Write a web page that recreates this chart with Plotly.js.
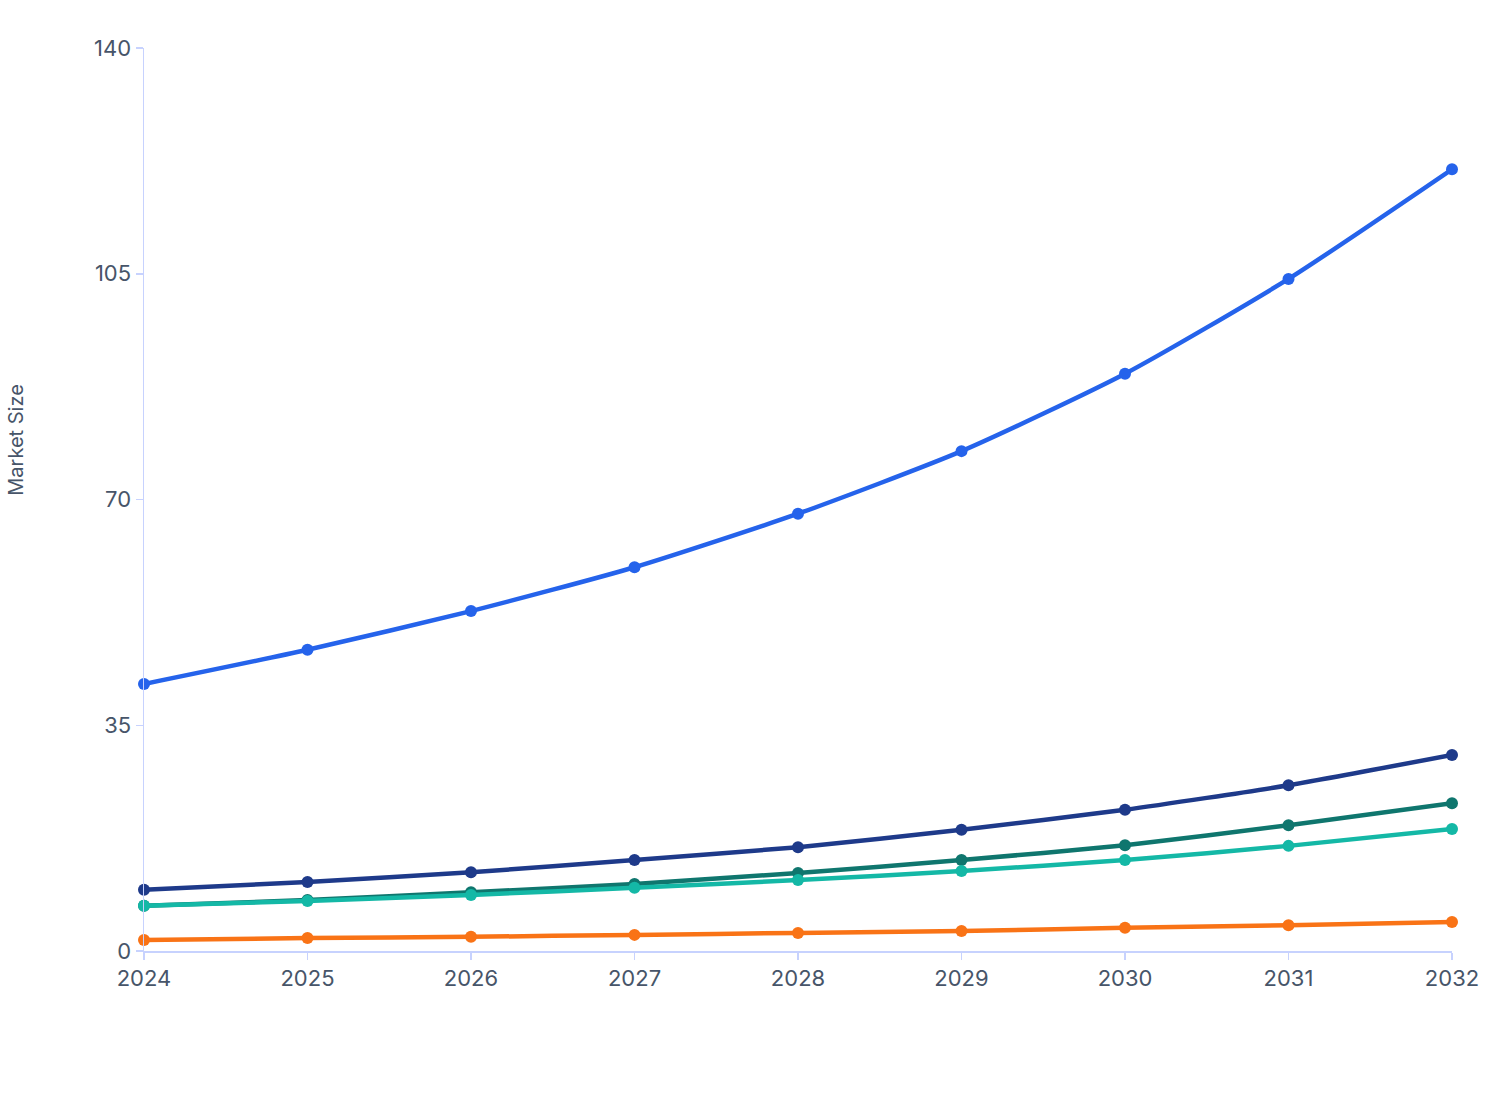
<!DOCTYPE html>
<html>
<head>
<meta charset="utf-8">
<script src="https://cdn.plot.ly/plotly-3.0.1.min.js"></script>
<style>html,body{margin:0;padding:0;background:#fff;}#chart{width:1508px;height:1120px;}</style>
</head>
<body>
<div id="chart"></div>
<script>
const years = [2024, 2025, 2026, 2027, 2028, 2029, 2030, 2031, 2032];
const seriesA = [41.4, 46.7, 52.7, 59.5, 67.8, 77.5, 89.5, 104.2, 121.2];
const seriesB = [9.5, 10.7, 12.2, 14.1, 16.1, 18.8, 21.9, 25.7, 30.4];
const seriesC = [7.0, 7.9, 9.1, 10.4, 12.1, 14.1, 16.4, 19.5, 22.9];
const seriesD = [7.0, 7.75, 8.7, 9.8, 11.0, 12.4, 14.1, 16.3, 18.9];
const seriesE = [1.7, 2.0, 2.2, 2.5, 2.8, 3.1, 3.6, 4.0, 4.5];
const yTicks = [0, 35, 70, 105, 140];
const yTitle = 'Market Size';

function tr(y, color) {
  return {
    x: years, y: y, type: 'scatter', mode: 'lines+markers',
    line: {color: color, width: 4.5, shape: 'spline', smoothing: 0.6},
    marker: {color: color, size: 12},
    cliponaxis: false, hoverinfo: 'x+y'
  };
}
const data = [
  tr(seriesA, '#2563eb'),
  tr(seriesB, '#1e3a8a'),
  tr(seriesC, '#0f766e'),
  tr(seriesD, '#14b8a6'),
  tr(seriesE, '#f97316')
];
const axisColor = '#c7d2fe';
const textColor = '#475569';
const layout = {
  width: 1508, height: 1120,
  margin: {l: 144, r: 56, t: 48, b: 169},
  paper_bgcolor: '#ffffff', plot_bgcolor: '#ffffff',
  showlegend: false,
  font: {family: 'Inter, "Noto Sans", sans-serif', color: textColor},
  xaxis: {
    range: [2024, 2032], tickvals: years, ticktext: years.map(String),
    showgrid: false, zeroline: false, showline: true, linecolor: axisColor, linewidth: 1.5,
    ticks: 'outside', ticklen: 7, tickcolor: axisColor, tickwidth: 1.5,
    tickfont: {size: 22, color: textColor}
  },
  yaxis: {
    range: [0, 140], tickvals: yTicks, ticktext: yTicks.map(String),
    showgrid: false, zeroline: false, showline: true, linecolor: axisColor, linewidth: 1.5,
    ticks: 'outside', ticklen: 7, tickcolor: axisColor, tickwidth: 1.5,
    tickfont: {size: 22, color: textColor}
  },
  annotations: [{
    text: yTitle, textangle: -90, showarrow: false,
    xref: 'paper', yref: 'paper', x: -0.098, y: 0.566,
    xanchor: 'center', yanchor: 'middle',
    font: {size: 20, color: textColor}
  }]
};
Plotly.newPlot('chart', data, layout, {displayModeBar: false, staticPlot: true});
</script>
</body>
</html>
